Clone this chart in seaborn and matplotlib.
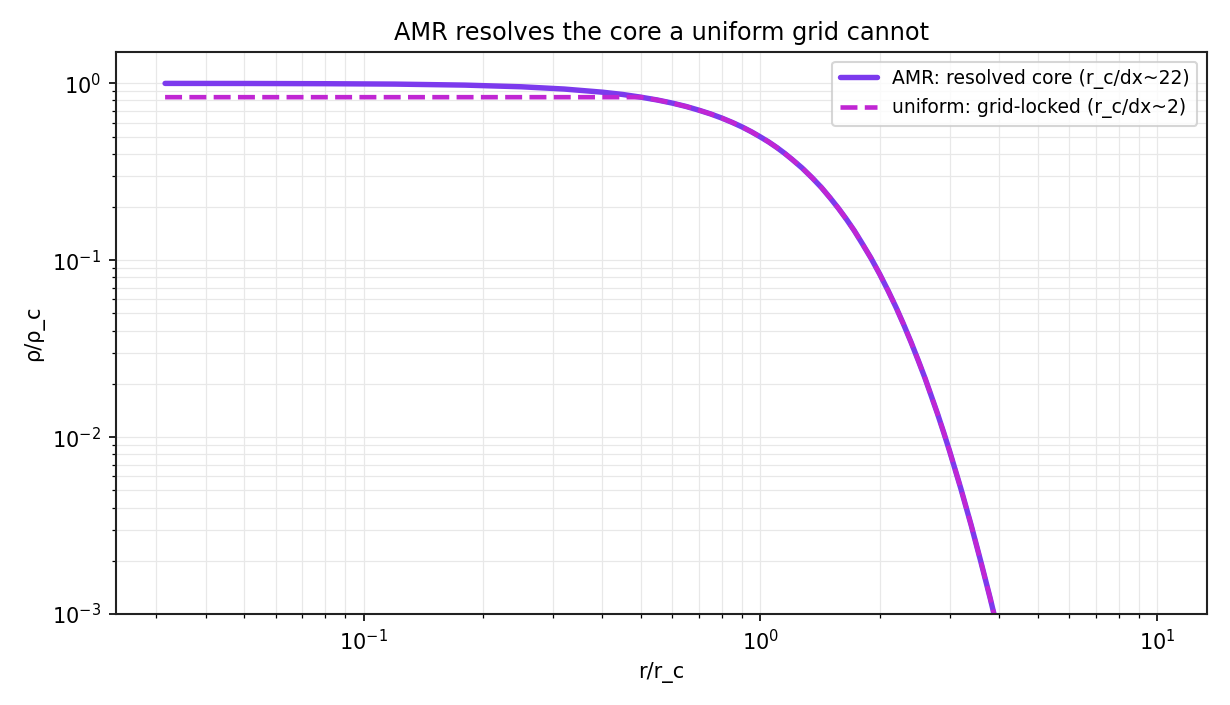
import numpy as np
import pandas as pd
import matplotlib
matplotlib.use("Agg")
import matplotlib.pyplot as plt
import seaborn as sns

# Values
r_amr = [0.0316, 0.05, 0.08, 0.12, 0.18, 0.25, 0.32, 0.4, 0.45, 0.5, 0.55, 0.6, 0.65,
         0.7, 0.75, 0.8, 0.85, 0.9, 0.95, 1.0, 1.05, 1.1, 1.15, 1.2, 1.275, 1.35,
         1.425, 1.5, 1.575, 1.65, 1.725, 1.8, 1.9, 2.0, 2.1, 2.2, 2.3, 2.4, 2.5, 2.6,
         2.7, 2.8, 2.9, 3.0, 3.2, 3.4, 3.6, 3.8, 4.0, 4.2]
rho_amr = [0.999, 0.998, 0.995, 0.990, 0.977, 0.956, 0.9285, 0.891, 0.865, 0.835,
           0.805, 0.773, 0.740, 0.705, 0.671, 0.636, 0.601, 0.5665, 0.532, 0.498,
           0.466, 0.434, 0.403, 0.373, 0.332, 0.293, 0.258, 0.225, 0.196, 0.170,
           0.147, 0.126, 0.103, 0.0834, 0.0672, 0.0540, 0.0431, 0.0343, 0.0272,
           0.0216, 0.0170, 0.01346, 0.01060, 0.00834, 0.00515, 0.00318, 0.00196,
           0.00122, 0.000756, 0.000472]
r_uni = [0.0316, 0.5, 0.55, 0.6, 0.65, 0.7, 0.75, 0.8, 0.85, 0.9, 0.95, 1.0, 1.05,
         1.1, 1.15, 1.2, 1.275, 1.35, 1.425, 1.5, 1.575, 1.65, 1.725, 1.8, 1.9, 2.0,
         2.1, 2.2, 2.3, 2.4, 2.5, 2.6, 2.7, 2.8, 2.9, 3.0, 3.2, 3.4, 3.6, 3.8, 4.0, 4.2]
rho_uni = [0.835, 0.835, 0.805, 0.773, 0.740, 0.705, 0.671, 0.636, 0.601, 0.5665,
           0.532, 0.498, 0.466, 0.434, 0.403, 0.373, 0.332, 0.293, 0.258, 0.225,
           0.196, 0.170, 0.147, 0.126, 0.103, 0.0834, 0.0672, 0.0540, 0.0431,
           0.0343, 0.0272, 0.0216, 0.0170, 0.01346, 0.01060, 0.00834, 0.00515,
           0.00318, 0.00196, 0.00122, 0.000756, 0.000472]
label_amr = "AMR: resolved core (r_c/dx~22)"
label_uni = "uniform: grid-locked (r_c/dx~2)"

sns.set_style("ticks", {"text.color": "black", "axes.labelcolor": "black",
                        "xtick.color": "black", "ytick.color": "black",
                        "axes.edgecolor": "#222222"})
plt.rcParams['font.family'] = ['DejaVu Sans']

fig, ax = plt.subplots(figsize=(8.2, 4.7), dpi=150)
fig.subplots_adjust(left=0.094, right=0.981, top=0.926, bottom=0.129)

sns.lineplot(x=r_amr, y=rho_amr, ax=ax, color="#7c3aed", lw=2.6, label=label_amr,
             sort=False)
sns.lineplot(x=r_uni, y=rho_uni, ax=ax, color="#c026d3", lw=2.2, ls="--",
             label=label_uni, sort=False)

ax.set_xscale("log")
ax.set_yscale("log")
ax.set_xlim(10**-1.625, 10**1.125)
ax.set_ylim(1e-3, 1.5)
ax.grid(True, which="both", color="#e8e8e8", lw=0.6)
ax.set_axisbelow(True)
for s in ax.spines.values():
    s.set_color("#222222")
    s.set_linewidth(1.0)
ax.tick_params(labelsize=10, colors="black")
ax.set_xlabel("r/r_c", fontsize=10, color="black")
ax.set_ylabel("ρ/ρ_c", fontsize=10, color="black")
ax.set_title("AMR resolves the core a uniform grid cannot", fontsize=11.5, color="black")
ax.legend(loc="upper right", fontsize=9, frameon=True, fancybox=True)

fig.savefig("out.png", dpi=150)
